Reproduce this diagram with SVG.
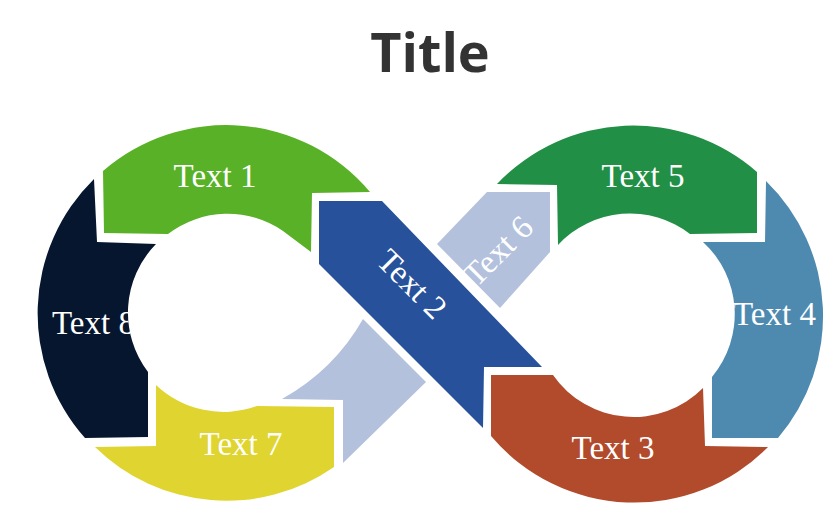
<svg xmlns="http://www.w3.org/2000/svg" xmlns:xlink="http://www.w3.org/1999/xlink" width="840" height="511" viewBox="0 0 840 511">
<style>
.lbl{font-family:"Liberation Serif","Times New Roman",serif;font-size:33px;fill:#ffffff;text-anchor:middle}
.title{font-family:"Open Sans","Liberation Sans",sans-serif;font-size:54px;font-weight:700;fill:#333333;text-anchor:middle}
</style>
<defs>
<path id="p1" d="M103 171 A188 188 0 0 1 370 192 L312 193 L311 252 L283 231 A98 98 0 0 0 168 234 L104 233 Z"/>
<path id="p8" d="M94 179 L97 242 L156 244 A98 98 0 0 0 148 372 L148 437 L85 438 A188 188 0 0 1 94 179 Z"/>
<path id="p7" d="M156 385 L156 446 L95 447 A188 188 0 0 0 334 467 L334 407 L257 406 A98 98 0 0 1 156 385 Z"/>
<path id="plb" d="M343 400 L282 399 Q334 370 363 319 L426 382 L343 463 Z"/>
<path id="p2" d="M319 201 L382 201 L542 367 L484 367 L483 428 L319 264 Z"/>
<path id="p6" d="M487 192 L550 192 L550 252 L500 308 L437 244 Z"/>
<path id="p5" d="M497 184 L557 185 L558 245 A98 98 0 0 1 690 234 L757 233 L757 172 A188 188 0 0 0 497 184 Z"/>
<path id="p4" d="M766 181 L765 242 L703 242 A98 98 0 0 1 712 377 L712 438 L778 438 A188 188 0 0 0 766 181 Z"/>
<path id="p3" d="M703 388 L705 446 L768 447 A188 188 0 0 1 491 436 L491 375 L553 375 A98 98 0 0 0 703 388 Z"/>
<clipPath id="c8"><use xlink:href="#p8"/></clipPath>
<clipPath id="c4"><use xlink:href="#p4"/></clipPath>
</defs>
<rect width="840" height="511" fill="#ffffff"/>
<text class="title" x="430" y="72">Title</text>
<g id="node-text1">
<use xlink:href="#p1" fill="#58B126"/>
<text class="lbl" x="215" y="187">Text 1</text>
</g>
<g id="node-text8">
<use xlink:href="#p8" fill="#07162F"/>
<text class="lbl" x="52" y="334" style="text-anchor:start" clip-path="url(#c8)">Text 8</text>
</g>
<g id="node-text7">
<use xlink:href="#p7" fill="#E0D430"/>
<text class="lbl" x="241" y="455">Text 7</text>
</g>
<g id="node-lower-arrow">
<use xlink:href="#plb" fill="#B3C1DD"/>
</g>
<g id="node-text2">
<use xlink:href="#p2" fill="#27519B"/>
<text class="lbl" transform="translate(412 284) rotate(45)" x="0" y="11">Text 2</text>
</g>
<g id="node-text6">
<use xlink:href="#p6" fill="#B3C1DD"/>
<text class="lbl" transform="translate(498 251) rotate(-45)" x="0" y="11">Text 6</text>
</g>
<g id="node-text5">
<use xlink:href="#p5" fill="#228F46"/>
<text class="lbl" x="643" y="187">Text 5</text>
</g>
<g id="node-text4">
<use xlink:href="#p4" fill="#4E8AB0"/>
<text class="lbl" x="733" y="325" style="text-anchor:start" clip-path="url(#c4)">Text 4</text>
</g>
<g id="node-text3">
<use xlink:href="#p3" fill="#B14B2C"/>
<text class="lbl" x="613" y="459">Text 3</text>
</g>
<g id="connectors"></g>
</svg>
